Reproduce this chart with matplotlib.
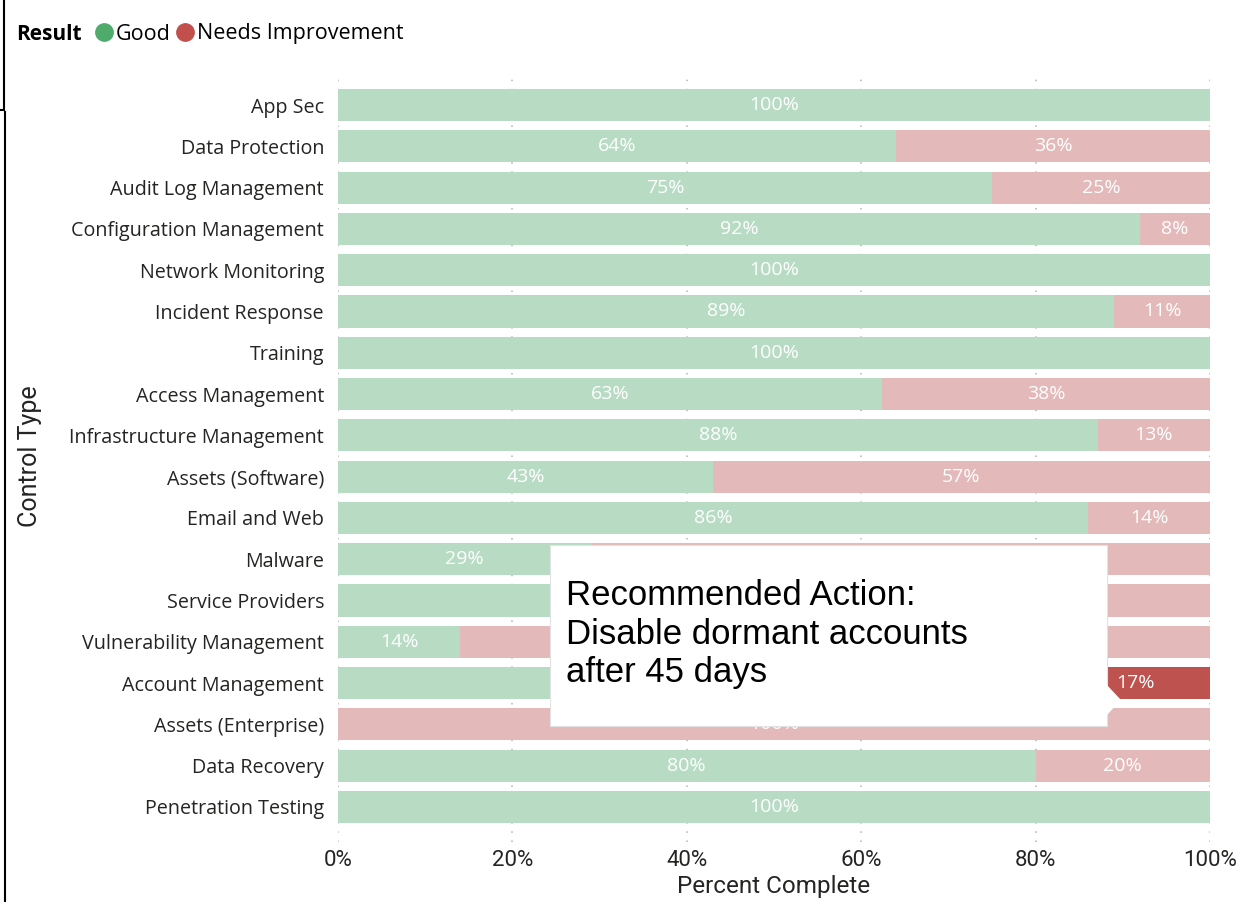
import matplotlib
matplotlib.use('Agg')
import numpy as np
import matplotlib.pyplot as plt
from matplotlib.patches import FancyBboxPatch, Polygon
from matplotlib.lines import Line2D

# DATA

categories = ['App Sec', 'Data Protection', 'Audit Log Management', 'Configuration Management',
              'Network Monitoring', 'Incident Response', 'Training', 'Access Management',
              'Infrastructure Management', 'Assets (Software)', 'Email and Web', 'Malware',
              'Service Providers', 'Vulnerability Management', 'Account Management',
              'Assets (Enterprise)', 'Data Recovery', 'Penetration Testing']
good  = [100, 64, 75, 92, 100, 89, 100, 63, 88, 43, 86, 29, 60, 14, 83, 0, 80, 100]
needs = [0, 36, 25, 8, 0, 11, 0, 38, 13, 57, 14, 71, 40, 86, 17, 100, 20, 0]
# the data point under the tooltip
highlight = 'Account Management'
# data labels covered by the tooltip (category, segment)
covered = {('Malware', 'needs'), ('Service Providers', 'good'), ('Service Providers', 'needs'),
           ('Vulnerability Management', 'needs'), ('Account Management', 'good')}

x_ticks = [0, 20, 40, 60, 80, 100]

GREEN_LIGHT = '#b8dcc3'
RED_LIGHT   = '#e3b9b9'
RED_DARK    = '#bd524f'
GREEN_DOT   = '#4fab6c'
RED_DOT     = '#c1504d'
TXT         = '#252423'
NARROW      = ['Roboto', 'DejaVu Sans']

plt.rcParams['font.family'] = ['Open Sans', 'DejaVu Sans']

fig = plt.figure(figsize=(12.4, 9.02), dpi=100)
ax = fig.add_axes([338/1240, 1 - 842/902, 872/1240, (842 - 72)/902])

y = np.arange(len(categories))
h = 0.78
tot = np.array(good) + np.array(needs)
gp = np.array(good) / tot * 100
rp = np.array(needs) / tot * 100

ax.barh(y, gp, height=h, color=GREEN_LIGHT, zorder=2)
red_cols = [RED_DARK if c == highlight else RED_LIGHT for c in categories]
ax.barh(y, rp, left=gp, height=h, color=red_cols, zorder=2)

for i, cat in enumerate(categories):
    if good[i] > 0 and (cat, 'good') not in covered:
        ax.text(gp[i] / 2, y[i], f'{good[i]}%', ha='center', va='center',
                color='white', fontsize=14, zorder=3)
    if needs[i] > 0 and (cat, 'needs') not in covered:
        ax.text(gp[i] + rp[i] / 2, y[i], f'{needs[i]}%', ha='center', va='center',
                color='white', fontsize=14, zorder=3)

ax.set_xlim(0, 100)
ax.set_ylim(len(categories) - 1 + 0.85, -0.8)
ax.set_yticks(y)
ax.set_yticklabels(categories, fontsize=14.2, color=TXT)
ax.set_xticks(x_ticks)
ax.set_xticklabels([f'{t}%' for t in x_ticks], fontsize=16, color=TXT, family=NARROW)
ax.tick_params(length=0)
ax.tick_params(axis='y', pad=10)
ax.tick_params(axis='x', pad=6)
for s in ax.spines.values():
    s.set_visible(False)
ax.grid(axis='x', color='#b4b4b4', linestyle=(0, (1, 5)), lw=1.1, zorder=0)
ax.set_xlabel('Percent Complete', fontsize=17.5, color=TXT, family=NARROW)
ax.xaxis.set_label_coords(0.5, -(886 - 842) / (842 - 72), transform=ax.transAxes)
ax.xaxis.label.set_va('center')
ax.set_ylabel('Control Type', fontsize=18, color=TXT, family=NARROW)
ax.yaxis.set_label_coords(-(338 - 30) / 872, (842 - 456) / (842 - 72), transform=ax.transAxes)
ax.yaxis.label.set_va('center')

# legend
fig.text(16/1240, 1 - 34/902, 'Result', fontsize=15, fontweight='bold', va='center', color='black')
fig.legend(handles=[Line2D([], [], marker='o', ls='', color=GREEN_DOT, markersize=12.5, label='Good'),
                    Line2D([], [], marker='o', ls='', color=RED_DOT, markersize=12.5, label='Needs Improvement')],
           loc='center left', bbox_to_anchor=(95/1240, 1 - 34/902), ncol=2, frameon=False,
           fontsize=15.5, handletextpad=0.15, columnspacing=0.3, borderaxespad=0, borderpad=0,
           handlelength=0.8, labelcolor='black')

# tooltip
tip = FancyBboxPatch((550/1240, 1 - 726/902), 557/1240, 181/902, boxstyle='square,pad=0',
                     transform=fig.transFigure, facecolor='white', edgecolor='#e2e2e2', lw=0.8, zorder=5)
fig.patches.append(tip)
arrow = Polygon([(1106/1240, 1 - 684/902), (1121/1240, 1 - 700/902), (1106/1240, 1 - 716/902)],
                closed=True, transform=fig.transFigure, facecolor='white', edgecolor='none', zorder=6)
fig.patches.append(arrow)
fig.text(566/1240, 1 - 634/902, 'Recommended Action:\nDisable dormant accounts\nafter 45 days',
         fontsize=25, family=['Liberation Sans', 'DejaVu Sans'], color='black',
         va='center', ha='left', linespacing=1.22, zorder=7)

# window border remnants on the left edge
fig.add_artist(Line2D([4/1240, 4/1240], [1, 1 - 108/902], transform=fig.transFigure, color='black', lw=1.5))
fig.add_artist(Line2D([0, 4/1240], [1 - 110/902, 1 - 110/902], transform=fig.transFigure, color='black', lw=1.5))
fig.add_artist(Line2D([5/1240, 5/1240], [1 - 112/902, 0], transform=fig.transFigure, color='black', lw=1.5))

fig.savefig('out.png', dpi=100)
